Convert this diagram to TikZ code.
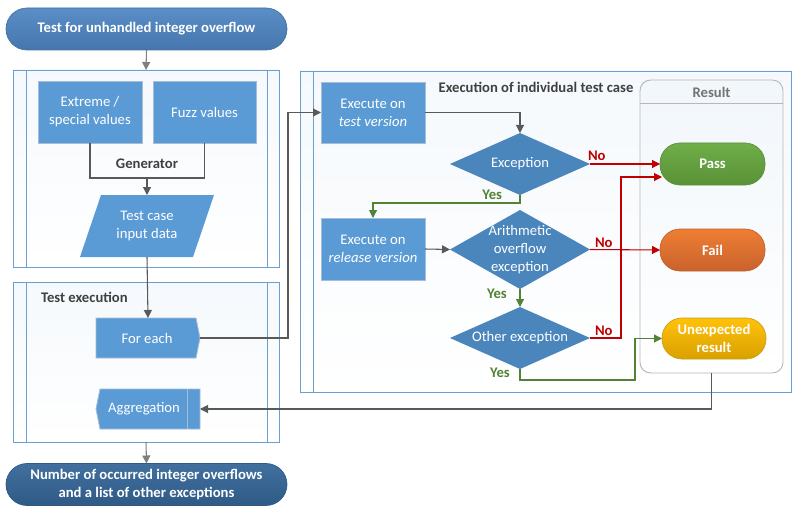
\documentclass[tikz,border=0pt]{standalone}
\usepackage{fontspec}
\setmainfont{Carlito}
\usetikzlibrary{arrows.meta,calc}
\definecolor{boxblue}{HTML}{5B9BD5}
\definecolor{boxedge}{HTML}{A6BDD7}
\definecolor{diablue}{HTML}{4A85BC}
\definecolor{laneedge}{HTML}{6A9FD4}
\definecolor{linegray}{HTML}{595959}
\definecolor{arrgray}{HTML}{7F7F7F}
\definecolor{nored}{HTML}{C00000}
\definecolor{yesgreen}{HTML}{548235}
\definecolor{titlegray}{HTML}{404040}
\definecolor{passtop}{HTML}{6FAE48}
\definecolor{passbot}{HTML}{5A9137}
\definecolor{passedge}{HTML}{5A8F3A}
\definecolor{failtop}{HTML}{EE7E33}
\definecolor{failbot}{HTML}{C9622C}
\definecolor{failedge}{HTML}{C06030}
\definecolor{unxtop}{HTML}{FFC20A}
\definecolor{unxbot}{HTML}{D9A000}
\definecolor{unxedge}{HTML}{C9A010}
\definecolor{termtop}{HTML}{5A8EC6}
\definecolor{termbot}{HTML}{4676AD}
\definecolor{termedge}{HTML}{41709F}
\definecolor{endtop}{HTML}{41709F}
\definecolor{endbot}{HTML}{2F5A86}
\begin{document}
\begin{tikzpicture}[x=0.75pt,y=-0.75pt,
  every node/.style={font=\fontsize{11}{13.5}\selectfont, align=center, inner sep=0pt, outer sep=0pt},
  lane/.style={draw=laneedge, line width=0.6pt, top color=white!90!boxblue!60, bottom color=white},
  procbox/.style={rectangle, fill=boxblue, draw=boxedge, line width=0.6pt, text=white},
  holder/.style={rectangle, draw=none, text=white},
  dia/.style={fill=diablue},
  term/.style={rectangle, rounded corners=15.75pt, text=white, font=\fontsize{11}{13.5}\selectfont\bfseries},
  res/.style={rectangle, rounded corners=15pt, text=white, font=\fontsize{11}{13.5}\selectfont\bfseries, line width=0.5pt},
  conn/.style={draw=linegray, line width=0.8pt, -{Triangle[length=6pt,width=6pt]}},
  plain/.style={draw=linegray, line width=0.8pt},
  noconn/.style={draw=nored, line width=0.8pt, -{Triangle[length=6pt,width=6pt]}},
  yesconn/.style={draw=yesgreen, line width=0.8pt, -{Triangle[length=6pt,width=6pt]}},
  nolab/.style={text=nored, font=\fontsize{11}{13.5}\selectfont\bfseries},
  yeslab/.style={text=yesgreen, font=\fontsize{11}{13.5}\selectfont\bfseries}
]
\useasboundingbox (0,0) rectangle (795,506);

% ---------- lanes ----------
\node[lane, minimum width=266*0.75pt, minimum height=197*0.75pt] (genlane) at (146,168.5) {};
\draw[laneedge, line width=0.6pt] (26,70) -- (26,267) (267,70) -- (267,267);
\node[lane, minimum width=266*0.75pt, minimum height=160*0.75pt] (telane) at (146,362) {};
\draw[laneedge, line width=0.6pt] (26,282) -- (26,442) (267,282) -- (267,442);
\node[anchor=west, text=titlegray, font=\fontsize{11}{13.5}\selectfont\bfseries] (tetitle) at (41,297) {Test execution};

\node[lane, minimum width=491*0.75pt, minimum height=321*0.75pt] (exlane) at (545.5,231.5) {};
\draw[laneedge, line width=0.6pt] (313,71) -- (313,392);
\node[text=titlegray, font=\fontsize{11}{13.5}\selectfont\bfseries] (extitle) at (536,87) {Execution of individual test case};

\node[rectangle, rounded corners=8pt, draw=black!28, line width=0.7pt, top color=black!3!boxblue!8, bottom color=white, minimum width=143*0.75pt, minimum height=293*0.75pt] (reslane) at (711.5,226.5) {};
\draw[black!28, line width=0.7pt] (640,103) -- (783,103);
\node[text=black!55, font=\fontsize{11}{13.5}\selectfont\bfseries] (restitle) at (711.5,92) {Result};

% ---------- terminators ----------
\node[term, top color=termtop, bottom color=termbot, draw=termedge, line width=0.5pt, minimum width=281*0.75pt, minimum height=42*0.75pt] (top) at (146.5,29) {Test for unhandled integer overflow};
\node[term, top color=endtop, bottom color=endbot, draw=endbot, line width=0.5pt, minimum width=281*0.75pt, minimum height=42*0.75pt] (bot) at (146.5,484.5) {Number of occurred integer overflows\\and a list of other exceptions};

% ---------- generator ----------
\node[procbox, minimum width=104*0.75pt, minimum height=62*0.75pt] (ext) at (90,112) {Extreme /\\special values};
\node[procbox, minimum width=103*0.75pt, minimum height=62*0.75pt] (fuzz) at (204.5,112) {Fuzz values};
\node[text=titlegray, font=\fontsize{11}{13.5}\selectfont\bfseries] (genlab) at (147,164) {Generator};
\coordinate (genc) at (147,178);
\node[holder, minimum width=134*0.75pt, minimum height=62*0.75pt] (tc) at (147,226) {};
\fill[boxblue] (101,195) -- (214,195) -- (193,257) -- (80,257) -- cycle;
\node[text=white] at (tc) {Test case\\input data};

% ---------- test execution ----------
\node[holder, minimum width=104*0.75pt, minimum height=40*0.75pt] (fe) at (148,338) {};
\filldraw[fill=boxblue, draw=boxedge, line width=0.6pt] (96,318) -- (196,318) -- (200,338) -- (196,358) -- (96,358) -- cycle;
\node[text=white] at (147,338) {For each};
\node[holder, minimum width=104*0.75pt, minimum height=40*0.75pt] (ag) at (148,409) {};
\filldraw[fill=boxblue, draw=boxedge, line width=0.6pt] (100,389) -- (200,389) -- (200,429) -- (100,429) -- (96,409) -- cycle;
\draw[boxedge, line width=0.6pt] (187,389) -- (187,429);
\node[text=white] at (144,409) {Aggregation};

% ---------- execution of test case ----------
\node[procbox, minimum width=104*0.75pt, minimum height=61*0.75pt] (et) at (373,112.5) {Execute on\\\itshape test version};
\node[procbox, minimum width=104*0.75pt, minimum height=62*0.75pt] (er) at (373,249) {Execute on\\\itshape release version};

\node[holder, minimum width=140*0.75pt, minimum height=62*0.75pt] (exc) at (520,164) {};
\fill[dia] (exc.north) -- (exc.east) -- (exc.south) -- (exc.west) -- cycle;
\node[text=white] at (exc) {Exception};
\node[holder, minimum width=140*0.75pt, minimum height=79*0.75pt] (ar) at (520,249.5) {};
\fill[dia] (ar.north) -- (ar.east) -- (ar.south) -- (ar.west) -- cycle;
\node[text=white] at (ar) {Arithmetic\\overflow\\exception};
\node[holder, minimum width=140*0.75pt, minimum height=62*0.75pt] (oth) at (520,338) {};
\fill[dia] (oth.north) -- (oth.east) -- (oth.south) -- (oth.west) -- cycle;
\node[text=white] at (oth) {Other exception};

% ---------- results ----------
\node[res, top color=passtop, bottom color=passbot, draw=passedge, minimum width=105*0.75pt, minimum height=42*0.75pt] (pass) at (712.5,164) {Pass};
\node[res, top color=failtop, bottom color=failbot, draw=failedge, minimum width=105*0.75pt, minimum height=42*0.75pt] (fail) at (712.5,250) {Fail};
\node[res, top color=unxtop, bottom color=unxbot, draw=unxedge, minimum width=104*0.75pt, minimum height=41*0.75pt] (unexp) at (714,338.5) {Unexpected\\result};

% ---------- connectors ----------
\draw[conn, draw=arrgray] (top.south) -- (genlane.north);
\draw[plain] (ext.south) |- (genc) -| (fuzz.south);
\draw[conn] (genc) -- (tc.north);
\draw[conn] (tc.south) -- (fe.north);
\coordinate (fec) at (288,338);
\draw[conn] (fe.east) -- (fec) |- (et.west);
\draw[conn] (et.east) -| (exc.north);
\draw[noconn] (exc.east) -- (pass.west);
\node[nolab, anchor=south west] at (588,161) {No};
\coordinate (excy) at (520,203);
\draw[yesconn] (exc.south) -- (excy) -| (er.north);
\node[yeslab, anchor=south east] at (502,200) {Yes};
\draw[conn] (er.east) -- (ar.west);
\draw[noconn] (ar.east) -- (fail.west);
\node[nolab, anchor=south west] at (595,248) {No};
\draw[yesconn] (ar.south) -- (oth.north);
\node[yeslab] at (497,294) {Yes};
\coordinate (othn) at (621,338);
\coordinate (passin) at (662,177);
\draw[noconn] (oth.east) -- (othn) |- (passin);
\node[nolab, anchor=south west] at (595,336) {No};
\coordinate (othy) at (635,380);
\draw[yesconn] (oth.south) |- (othy) |- (unexp.west);
\node[yeslab] at (500,373) {Yes};
\draw[conn] (reslane.south) |- (ag.east);
\draw[conn, draw=arrgray] (telane.south) -- (bot.north);
\end{tikzpicture}
\end{document}
